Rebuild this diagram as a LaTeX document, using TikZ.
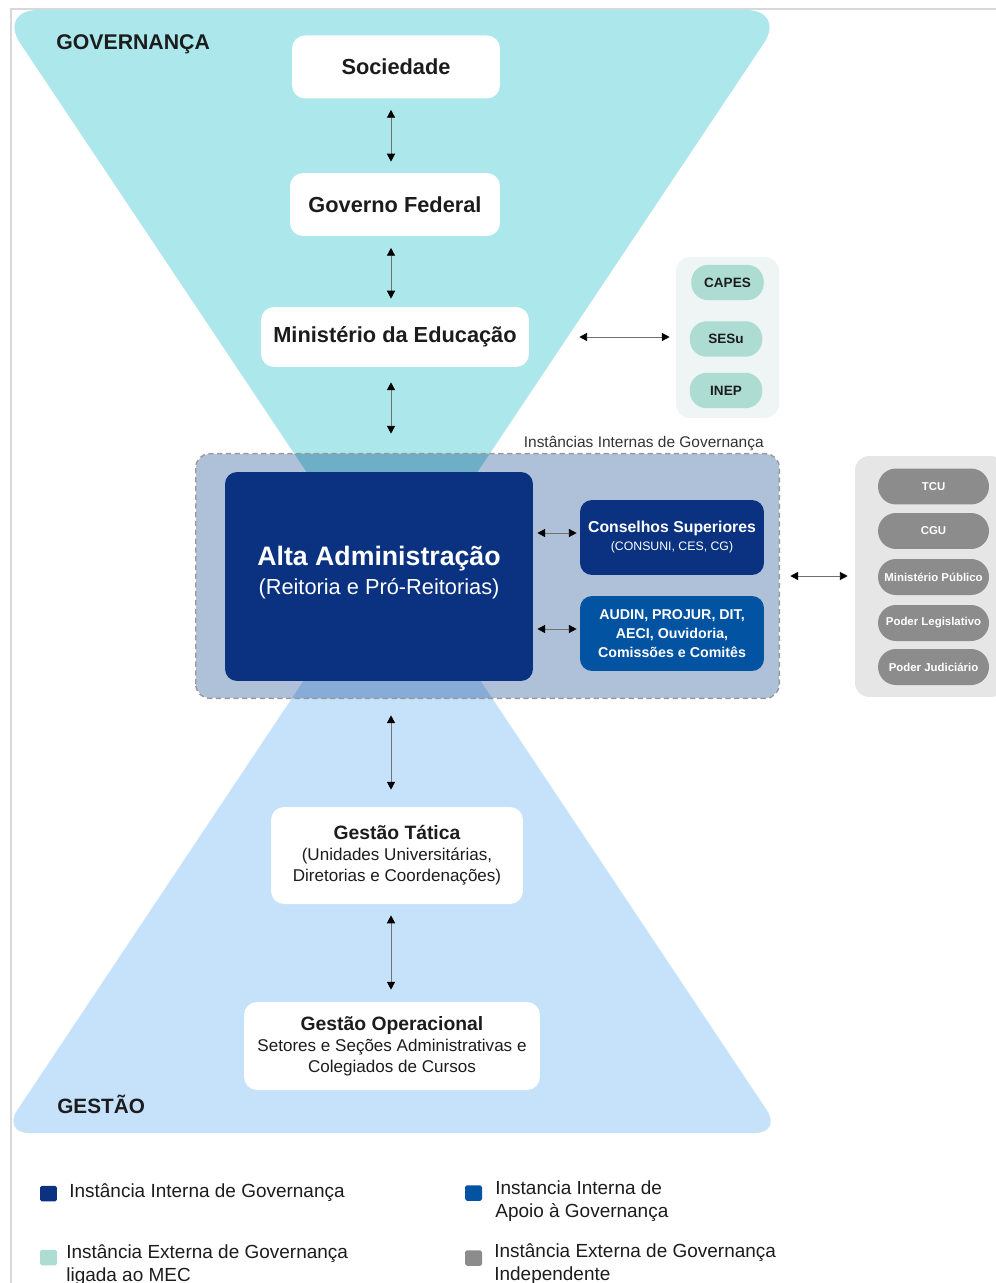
\documentclass[tikz,border=0pt]{standalone}
\usepackage{fontspec}
\setmainfont{Liberation Sans}
\usetikzlibrary{arrows.meta}
\definecolor{govcyan}{HTML}{ABE7EB}
\definecolor{gestblue}{HTML}{C6E2FB}
\definecolor{intgray}{HTML}{AFC1D9}
\definecolor{govdeep}{HTML}{6EAFC7}
\definecolor{gestdeep}{HTML}{88ACD8}
\definecolor{navy}{HTML}{0A3281}
\definecolor{apoio}{HTML}{0254A2}
\definecolor{mecbg}{HTML}{EEF5F4}
\definecolor{mint}{HTML}{ADDDD2}
\definecolor{extbg}{HTML}{E6E6E6}
\definecolor{extpill}{HTML}{8C8C8C}
\definecolor{txt}{HTML}{1C1C1C}
\definecolor{arrowgray}{HTML}{707070}
\definecolor{framegray}{HTML}{D8D8D8}
\newcommand\fsz[2]{\fontsize{#1}{#2}\selectfont}
\tikzset{
  whitebox/.style={fill=white, rounded corners=0.26cm, inner sep=0pt, text=txt, align=center},
  altabox/.style={fill=navy, rounded corners=0.24cm, inner sep=0pt, text=white, align=center},
  mecpill/.style={fill=mint, rounded corners=0.34cm, inner sep=0pt, text=txt,
    minimum width=1.45cm, minimum height=0.71cm, font=\bfseries\fsz{7.7}{9}},
  extpill/.style={fill=extpill, rounded corners=0.36cm, inner sep=0pt, text=white,
    minimum width=2.22cm, minimum height=0.72cm, font=\bfseries\fsz{6.5}{8}},
  zonelabel/.style={anchor=west, inner sep=0pt, text=txt},
  legsq/.style={rounded corners=1pt, inner sep=0pt, minimum width=0.34cm, minimum height=0.31cm},
  legtxt/.style={anchor=west, inner sep=0pt, align=left, text=txt, font=\fsz{10.8}{13}},
  biarrow/.style={{Triangle[length=4.5pt,width=4.6pt,color=black]}-{Triangle[length=4.5pt,width=4.6pt,color=black]},
    draw=arrowgray, line width=0.55pt},
}
\begin{document}
\begin{tikzpicture}[x=0.02cm,y=-0.02cm]
\useasboundingbox (0,0) rectangle (996,1283);
\draw[framegray, line width=0.6pt] (996,9) -- (11,9) -- (11,1283);

% governanca e gestao
\fill[govcyan, rounded corners=0.8cm] (-2,10) -- (786,10) -- (392,600) -- cycle;
\fill[gestblue, rounded corners=0.55cm] (2,1133) -- (782,1133) -- (392,548) -- cycle;
\node[zonelabel, font=\bfseries\fsz{12.1}{14}] (govlabel) at (56,44) {GOVERNANÇA};
\node[zonelabel, font=\bfseries\fsz{11.8}{14}] (gestlabel) at (57,1104) {GESTÃO};

% externas
\node[whitebox, minimum width=4.16cm, minimum height=1.26cm, font=\bfseries\fsz{12.4}{14}] (soc) at (396,67) {Sociedade};
\node[whitebox, minimum width=4.2cm, minimum height=1.26cm, font=\bfseries\fsz{12.4}{14}] (gov) at (395,204.5) {Governo Federal};
\node[whitebox, minimum width=5.36cm, minimum height=1.2cm, font=\bfseries\fsz{12.4}{14}] (min) at (395,337) {Ministério da Educação};

\node[fill=mecbg, rounded corners=0.28cm, minimum width=2.06cm, minimum height=3.22cm] (mecgrp) at (727.5,337.5) {};
\node[mecpill] (capes) at (727.5,282.5) {CAPES};
\node[mecpill] (sesu) at (726,339) {SESu};
\node[mecpill] (inep) at (726,390.5) {INEP};

% instancias internas
\node[fill=intgray, rounded corners=0.28cm, minimum width=11.66cm, minimum height=4.88cm] (intbox) at (487.5,576) {};
\begin{scope}
  \clip[rounded corners=0.28cm] (intbox.south west) rectangle (intbox.north east);
  \fill[govdeep] (-2,10) -- (786,10) -- (392,600) -- cycle;
  \fill[gestdeep] (2,1133) -- (782,1133) -- (392,548) -- cycle;
\end{scope}
\draw[draw=black!40, line width=0.8pt, dash pattern=on 3pt off 2pt, rounded corners=0.28cm]
  (intbox.south west) rectangle (intbox.north east);
\node[anchor=east, inner sep=0pt, text=txt!90, font=\fsz{8.8}{10}] (intlabel) at (764,444) {Instâncias Internas de Governança};

\node[altabox, minimum width=6.16cm, minimum height=4.18cm, font=\fsz{12.4}{16}] (alta) at (379,576.5)
  {{\bfseries\fsz{15.2}{16}Alta Administração}\\(Reitoria e Pró-Reitorias)\\[-9pt]};
\node[altabox, fill=navy, minimum width=3.68cm, minimum height=1.5cm, font=\fsz{7}{10.2}] (cons) at (672,537.5)
  {{\bfseries\fsz{9}{10.2}Conselhos Superiores}\\(CONSUNI, CES, CG)};
\node[altabox, fill=apoio, minimum width=3.68cm, minimum height=1.5cm, font=\bfseries\fsz{8.1}{10.8}] (apoio) at (672,633.5)
  {AUDIN, PROJUR, DIT,\\AECI, Ouvidoria,\\Comissões e Comitês};

% externas independentes
\node[fill=extbg, rounded corners=0.28cm, minimum width=3.0cm, minimum height=4.82cm] (extgrp) at (930,576.5) {};
\node[extpill] (tcu) at (933.5,486.5) {TCU};
\node[extpill] (cgu) at (933.5,531) {CGU};
\node[extpill] (mp) at (933.5,577) {Ministério Público};
\node[extpill] (leg) at (933.5,623) {Poder Legislativo};
\node[extpill] (jud) at (933.5,667) {Poder Judiciário};

% gestao
\node[whitebox, minimum width=5.04cm, minimum height=1.94cm, font=\fsz{9.7}{12}] (tatica) at (397,855.5)
  {{\bfseries\fsz{11}{12.5}Gestão Tática}\\(Unidades Universitárias,\\Diretorias e Coordenações)};
\node[whitebox, minimum width=5.92cm, minimum height=1.76cm, font=\fsz{9.7}{12}] (oper) at (392,1046)
  {{\bfseries\fsz{11}{12.5}Gestão Operacional}\\Setores e Seções Administrativas e\\Colegiados de Cursos};

% setas
\coordinate (axis) at (391,0);
\draw[biarrow, shorten <=0.22cm, shorten >=0.22cm] (soc.south -| axis) -- (gov.north -| axis);
\draw[biarrow, shorten <=0.23cm, shorten >=0.16cm] (gov.south -| axis) -- (min.north -| axis);
\draw[biarrow, shorten <=0.3cm, shorten >=0.4cm] (min.south -| axis) -- (intbox.north -| axis);
\draw[biarrow, shorten <=1cm, shorten >=0.12cm] (min.east) -- (mecgrp.west |- min.east);
\draw[biarrow, shorten <=0.08cm, shorten >=0.06cm] ([yshift=0.09cm]alta.east |- cons.west) -- ([yshift=0.09cm]cons.west);
\draw[biarrow, shorten <=0.08cm, shorten >=0.06cm] ([yshift=0.09cm]alta.east |- apoio.west) -- ([yshift=0.09cm]apoio.west);
\draw[biarrow, shorten <=0.22cm, shorten >=0.14cm] (intbox.east) -- (extgrp.west |- intbox.east);
\draw[biarrow, shorten <=0.34cm, shorten >=0.34cm] (intbox.south -| axis) -- (tatica.north -| axis);
\draw[biarrow, shorten <=0.22cm, shorten >=0.24cm] (tatica.south -| axis) -- (oper.north -| axis);

% legenda
\node[legsq, fill=navy] (lg1) at (48.5,1193.5) {};
\node[legtxt] (lt1) at (69,1193) {Instância Interna de Governança};
\node[legsq, fill=apoio] (lg2) at (473.5,1193) {};
\node[legtxt] (lt2) at (495,1201.5) {Instancia Interna de\\Apoio à Governança};
\node[legsq, fill=mint] (lg3) at (48.5,1257.5) {};
\node[legtxt] (lt3) at (66,1265) {Instância Externa de Governança\\ligada ao MEC};
\node[legsq, fill=extpill] (lg4) at (473.5,1258) {};
\node[legtxt] (lt4) at (494,1264) {Instância Externa de Governança\\Independente};
\end{tikzpicture}
\end{document}
